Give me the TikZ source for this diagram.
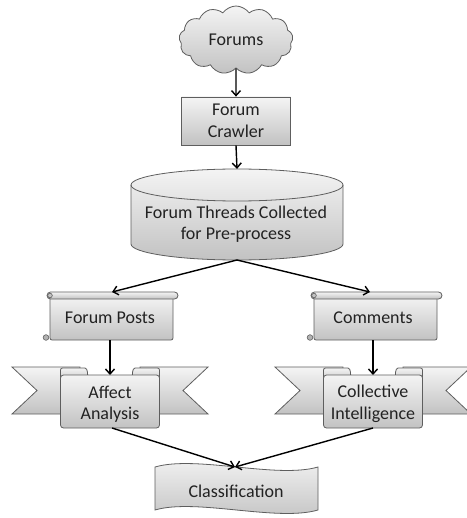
\documentclass[tikz,border=0pt]{standalone}
\usepackage{fontspec}
\setmainfont{Carlito}
\usetikzlibrary{arrows.meta,shapes.symbols}
\definecolor{edgec}{HTML}{5E5E5E}
\definecolor{txtc}{HTML}{222222}
\definecolor{topc}{HTML}{F4F4F4}
\definecolor{botc}{HTML}{C2C2C2}
\tikzset{
  shp/.style={draw=edgec, line width=0.8pt, top color=topc, bottom color=botc},
  lbl/.style={text=txtc, font=\fontsize{18}{21.5}\selectfont, align=center, inner sep=0pt},
  conn/.style={line width=1.4pt, -{Straight Barb[length=5pt,width=9pt]}},
}
\begin{document}
\begin{tikzpicture}[x=1pt,y=-1pt]
\useasboundingbox (0,0) rectangle (466,518);

% Forums cloud
\node[cloud, cloud puffs=13, cloud puff arc=110, aspect=1.7, shp, minimum width=114pt, minimum height=68pt, lbl] (forums) at (236,40) {Forums};

% Forum Crawler box
\node[rectangle, shp, minimum width=109pt, minimum height=48pt, lbl] (crawler) at (236,121) {Forum\\Crawler};

% Cylinder
\path[shp] (131,185) -- (131,244) .. controls (131,252.8) and (178.5,260) .. (237,260)
  .. controls (295.5,260) and (343,252.8) .. (343,244) -- (343,185)
  .. controls (343,176.2) and (295.5,169) .. (237,169)
  .. controls (178.5,169) and (131,176.2) .. (131,185) -- cycle;
\draw[draw=edgec, line width=0.8pt] (131,185) .. controls (131,193.8) and (178.5,201) .. (237,201)
  .. controls (295.5,201) and (343,193.8) .. (343,185);
\node[lbl] (threads) at (236,224) {Forum Threads Collected\\for Pre-process};
\coordinate (thtop) at (237,169);
\coordinate (thbot) at (237,260);

% Scrolls
\foreach \cx in {111,375}{
  \begin{scope}[shift={(\cx,0)}]
    \path[shp, rounded corners=2pt] (-61,296) -- (-61,340) -- (62,340) -- (62,296);
    \path[shp, rounded corners=3.5pt] (-64,292) rectangle (67,299);
    \draw[draw=edgec, line width=0.6pt, fill=botc] (-61,295.5) circle[radius=2.3pt];
    \draw[draw=edgec, line width=0.6pt, fill=gray!60] (-65,337.5) circle[radius=2.8pt];
  \end{scope}
}
\node[lbl] (posts) at (110,318) {Forum Posts};
\node[lbl] (comments) at (373,318) {Comments};
\coordinate (poststop) at (112,292);
\coordinate (postsbot) at (110,340);
\coordinate (commtop) at (370,292);
\coordinate (commbot) at (373,340);

% Ribbons
\foreach \cx in {110,373}{
  \begin{scope}[shift={(\cx,0)}]
    \path[shp] (-98,367) -- (-30,367) -- (-30,414) -- (-98,414) -- (-73,390.5) -- cycle;
    \path[shp] (98,367) -- (30,367) -- (30,414) -- (98,414) -- (73,390.5) -- cycle;
    \path[shp, rounded corners=2pt] (-49.5,382) -- (-49.5,368) -- (-27,368)
      .. controls (-22,368) and (-22,376) .. (-23,382) -- cycle;
    \path[shp, rounded corners=2pt] (49.5,382) -- (49.5,368) -- (27,368)
      .. controls (22,368) and (22,376) .. (23,382) -- cycle;
    \path[shp, rounded corners=3pt] (-49.5,375) rectangle (49.5,428);
  \end{scope}
}
\node[lbl] (affect) at (110,404) {Affect\\Analysis};
\node[lbl] (collective) at (373,404) {Collective\\Intelligence};
\coordinate (afftop) at (110,375);
\coordinate (affbot) at (112,428);
\coordinate (colltop) at (373,375);
\coordinate (collbot) at (373,428);

% Classification tape
\path[shp] (155,467) .. controls (196,455) and (277,479) .. (318,467) -- (318,510)
  .. controls (277,522) and (196,498) .. (155,510) -- cycle;
\node[lbl] (classif) at (236,491) {Classification};
\coordinate (cltop) at (235,467);

% Connectors
\draw[conn] (forums.south) -- (crawler.north);
\draw[conn] (crawler.south) -- (thtop);
\draw[conn] (thbot) -- (poststop);
\draw[conn] (thbot) -- (commtop);
\draw[conn] (postsbot) -- (afftop);
\draw[conn] (commbot) -- (colltop);
\draw[conn] (affbot) -- (cltop);
\draw[conn] (collbot) -- (cltop);
\end{tikzpicture}
\end{document}
